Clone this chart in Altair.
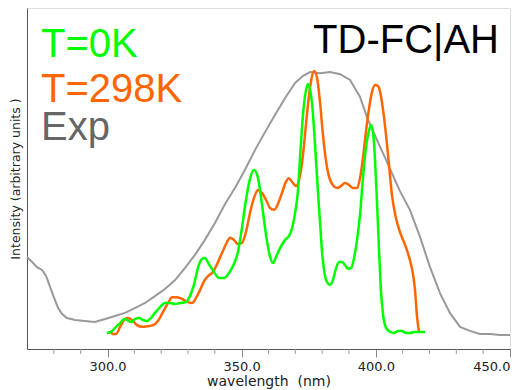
import altair as alt
import pandas as pd

# Experimental spectrum (gray)
exp_wl = [270.0, 271.9, 273.7, 275.6, 277.1, 278.6, 280.1, 281.6, 283.0, 284.9, 287.9, 291.6,
          295.3, 299.1, 302.8, 306.5, 310.2, 314.0, 317.7, 321.4, 325.2, 328.9, 332.6, 336.3,
          340.1, 343.8, 347.5, 351.2, 355.0, 358.7, 362.4, 366.2, 369.9, 372.9, 375.5, 379.2,
          382.9, 386.7, 390.4, 394.1, 396.7, 400.4, 404.2, 407.1, 409.0, 412.7, 416.5, 420.2,
          423.9, 427.6, 431.4, 435.1, 438.8, 442.6, 446.3, 450.0]
exp_int = [27.0, 25.5, 24.0, 23.2, 21.4, 18.2, 15.0, 12.0, 10.3, 9.1, 8.5, 8.2,
           7.9, 8.8, 9.7, 10.6, 12.0, 13.5, 15.5, 17.6, 20.2, 23.8, 27.6, 32.0,
           37.0, 42.5, 47.2, 52.5, 58.4, 63.6, 68.6, 73.6, 78.0, 80.1, 81.2, 80.9,
           81.2, 80.6, 78.9, 73.9, 68.0, 61.3, 54.8, 49.6, 46.3, 40.8, 32.8, 24.0,
           16.4, 10.6, 6.5, 5.3, 4.4, 4.4, 4.1, 4.1]

# T=0K (green)
t0_wl = [299.8, 301.3, 302.8, 304.7, 306.2, 307.3, 308.8, 310.3, 311.7, 313.2, 314.7, 316.2,
         317.7, 319.6, 321.4, 323.3, 325.2, 327.0, 329.3, 330.7, 332.2, 333.7, 335.2, 336.3,
         337.8, 339.7, 341.6, 343.4, 345.3, 347.1, 348.6, 350.1, 351.6, 353.1, 354.6, 356.1,
         357.6, 359.1, 360.6, 361.7, 362.8, 364.3, 366.2, 367.6, 368.8, 369.9, 371.0, 371.7,
         372.5, 373.2, 374.0, 374.7, 375.5, 376.2, 377.0, 377.7, 378.5, 379.2, 379.9, 380.7,
         381.8, 382.9, 384.0, 385.2, 386.3, 387.4, 388.5, 389.6, 390.8, 391.9, 393.0, 394.1,
         395.2, 396.3, 397.5, 398.2, 399.0, 399.7, 400.4, 401.2, 401.9, 402.7, 403.8, 405.3,
         406.8, 408.3, 409.8, 411.3, 412.7, 414.6, 416.5, 418.3]
t0_int = [4.7, 5.0, 6.2, 7.6, 8.8, 8.5, 7.9, 8.8, 9.1, 8.5, 8.2, 9.1,
          10.6, 12.3, 13.5, 13.5, 13.2, 13.5, 13.8, 15.5, 18.8, 23.8, 26.4, 26.7,
          24.9, 22.6, 20.8, 20.8, 22.3, 24.9, 28.4, 35.5, 43.7, 49.9, 52.5, 50.1,
          42.2, 33.4, 27.0, 25.2, 27.0, 29.6, 32.0, 33.1, 35.5, 39.9, 46.6, 55.4,
          65.1, 71.6, 76.0, 77.7, 76.0, 72.1, 64.2, 55.4, 45.2, 37.2, 29.0, 23.2,
          19.6, 18.8, 20.2, 23.8, 25.5, 25.5, 24.6, 23.5, 23.8, 26.7, 32.0, 39.3,
          50.1, 58.9, 64.2, 65.7, 63.3, 55.4, 43.7, 29.0, 17.3, 10.0, 6.2, 5.0,
          4.7, 5.3, 5.3, 4.7, 4.7, 5.0, 5.0, 5.0]

# T=298K (orange)
t298_wl = [300.9, 302.1, 303.2, 304.7, 306.2, 307.6, 309.1, 311.0, 312.9, 315.1, 317.0, 318.8,
           320.7, 322.6, 324.0, 325.9, 327.8, 329.6, 331.5, 333.0, 334.5, 336.0, 337.5, 339.3,
           341.2, 342.7, 344.2, 345.7, 347.1, 348.6, 350.1, 351.6, 353.1, 354.6, 356.1, 357.6,
           359.1, 360.6, 362.1, 363.5, 365.0, 366.5, 367.6, 368.8, 370.3, 371.4, 372.5, 373.6,
           374.7, 375.8, 377.0, 378.1, 379.2, 380.3, 381.4, 382.6, 384.0, 385.5, 387.0, 388.5,
           390.0, 391.5, 393.0, 394.1, 395.2, 396.3, 397.5, 398.6, 399.7, 400.8, 401.6, 402.7,
           403.8, 404.9, 406.0, 407.5, 409.0, 410.9, 412.7, 413.9, 414.6, 415.3, 416.1]
t298_int = [5.3, 4.4, 4.4, 6.5, 8.5, 9.1, 8.5, 7.0, 6.5, 6.7, 7.0, 8.2,
            10.9, 13.5, 15.2, 15.2, 14.7, 13.8, 13.5, 15.0, 17.3, 19.9, 21.4, 22.6,
            25.5, 28.2, 30.8, 32.6, 32.0, 30.8, 31.1, 34.3, 39.9, 44.3, 46.6, 45.7,
            43.7, 41.3, 40.8, 42.5, 45.7, 49.0, 50.1, 49.0, 47.8, 49.6, 54.5, 62.8,
            71.6, 78.3, 81.5, 79.5, 72.4, 62.8, 55.4, 50.4, 48.1, 47.2, 47.8, 48.7,
            48.1, 47.2, 47.2, 50.1, 56.0, 63.6, 70.7, 75.4, 77.4, 77.1, 75.4, 70.1,
            62.8, 54.0, 45.2, 38.4, 34.3, 30.5, 26.1, 21.7, 17.3, 10.0, 5.0]

major_ticks = [300, 350, 400, 450]
minor_ticks = [280, 290, 310, 320, 330, 340, 360, 370, 380, 390, 410, 420, 430, 440]

labels = ["T=0K", "T=298K", "Exp"]
label_colors = ["#00ff00", "#ff6600", "#666666"]

df_exp = pd.DataFrame({"wl": exp_wl, "I": exp_int})
df_t0 = pd.DataFrame({"wl": t0_wl, "I": t0_int})
df_t298 = pd.DataFrame({"wl": t298_wl, "I": t298_int})

xscale = alt.Scale(domain=[270, 450], nice=False, zero=False)
yscale = alt.Scale(domain=[0, 100], nice=False)

x_main = alt.X("wl:Q", scale=xscale,
               axis=alt.Axis(values=major_ticks, format=".1f", title="wavelength\u00a0 (nm)",
                             grid=False, tickSize=8, tickColor="#888888",
                             domainColor="#555555", labelFont="DejaVu Sans", labelFontSize=13,
                             labelColor="#222222", labelPadding=3,
                             titleFont="DejaVu Sans", titleFontSize=14, titleFontWeight="normal",
                             titleColor="#222222", titlePadding=1))
y_main = alt.Y("I:Q", scale=yscale,
               axis=alt.Axis(ticks=False, labels=False, grid=False, domainColor="#555555",
                             title="Intensity (arbitrary units )", titleFont="DejaVu Sans",
                             titleFontSize=12.5, titleFontWeight="normal", titleColor="#222222",
                             titlePadding=5))

exp_line = alt.Chart(df_exp).mark_line(color="#999999", strokeWidth=2).encode(x=x_main, y=y_main)
t298_line = alt.Chart(df_t298).mark_line(color="#ff6600", strokeWidth=2.5,
                                         interpolate="monotone").encode(x="wl:Q", y="I:Q")
t0_line = alt.Chart(df_t0).mark_line(color="#00ff00", strokeWidth=2.5,
                                     interpolate="monotone").encode(x="wl:Q", y="I:Q")

minor_df = pd.DataFrame({"wl": minor_ticks})
minor = alt.Chart(minor_df).mark_rule(color="#999999", strokeWidth=1).encode(
    x="wl:Q", y=alt.value(341), y2=alt.value(346))

lab_df = pd.DataFrame({"t": labels, "c": label_colors, "yy": [49, 93.5, 132]})
legend_text = alt.Chart(lab_df).mark_text(align="left", baseline="alphabetic", font="Liberation Sans",
                                          fontSize=40, x=14).encode(
    y=alt.Y("yy:Q", scale=None), text="t:N", color=alt.Color("c:N", scale=None))

title_text = alt.Chart(pd.DataFrame({"t": ["TD-FC|AH"]})).mark_text(
    align="right", baseline="alphabetic", font="Liberation Sans", fontSize=40, color="#000000",
    x=472, y=45).encode(text="t:N")

chart = alt.layer(exp_line, t298_line, t0_line, minor, legend_text, title_text).properties(
    width=483, height=341, padding={"left": 19, "top": 0, "right": 5, "bottom": 40},
    autosize=alt.AutoSizeParams(type="none")
).configure_view(stroke="#aaaaaa", strokeWidth=1).configure(background="white")

chart.save("out.html", embed_options={"renderer": "svg", "actions": False})
